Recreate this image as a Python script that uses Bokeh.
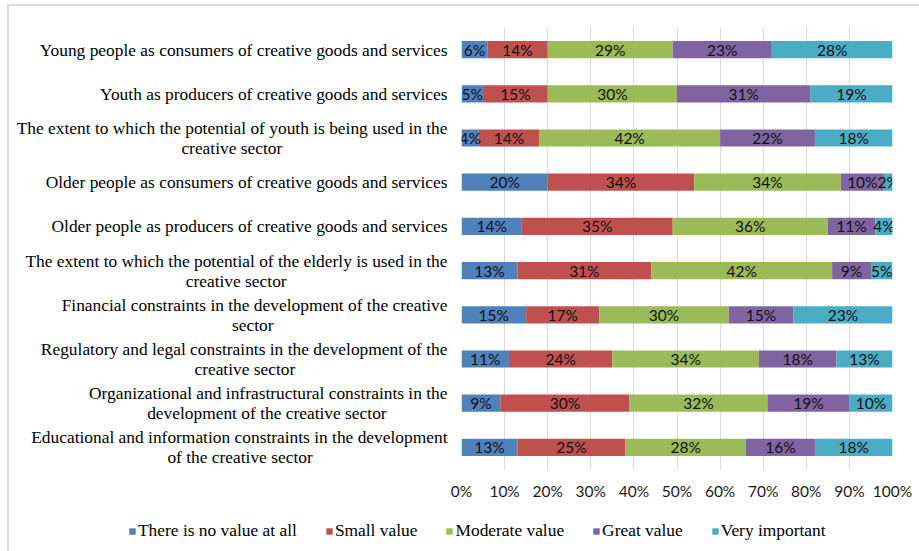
import numpy as np
from bokeh.plotting import figure
from bokeh.layouts import column
from bokeh.models import ColumnDataSource, FixedTicker, PrintfTickFormatter, Legend, LegendItem, Range1d
from bokeh.core.properties import value
from bokeh.embed import file_html
from bokeh.resources import INLINE

categories = [
    "Young people as consumers of creative goods and services",
    "Youth as producers of creative goods and services",
    "The extent to which the potential of youth is being used in the\ncreative sector",
    "Older people as consumers of creative goods and services",
    "Older people as producers of creative goods and services",
    "The extent to which the potential of the elderly is used in the\ncreative sector",
    "Financial constraints in the development of the creative\nsector",
    "Regulatory and legal constraints in the development of the\ncreative sector",
    "Organizational and infrastructural constraints in the\ndevelopment of the creative sector",
    "Educational and information constraints in the development\nof the creative sector",
]
series = ["There is no value at all", "Small value", "Moderate value", "Great value", "Very important"]
no_value = [6, 5, 4, 20, 14, 13, 15, 11, 9, 13]
small_value = [14, 15, 14, 34, 35, 31, 17, 24, 30, 25]
moderate_value = [29, 30, 42, 34, 36, 42, 30, 34, 32, 28]
great_value = [23, 31, 22, 10, 11, 9, 15, 18, 19, 16]
very_important = [28, 19, 18, 2, 4, 5, 23, 13, 10, 18]
x_ticks = [0, 10, 20, 30, 40, 50, 60, 70, 80, 90, 100]
colors = ["#4F81BD", "#C0504D", "#9BBB59", "#8064A2", "#4BACC6"]

# Times/Liberation Serif advance widths (1/1000 em) used to centre second lines
_w = {' ': 250, 'a': 444, 'b': 500, 'c': 444, 'd': 500, 'e': 444, 'f': 333, 'g': 500,
      'h': 500, 'i': 278, 'j': 278, 'k': 500, 'l': 278, 'm': 778, 'n': 500, 'o': 500,
      'p': 500, 'q': 500, 'r': 333, 's': 389, 't': 278, 'u': 500, 'v': 500, 'w': 722,
      'x': 500, 'y': 500, 'z': 444, 'T': 611, 'F': 556, 'R': 667, 'O': 722, 'E': 611, 'Y': 722}


def _width(s):
    return sum(_w.get(c, 500) for c in s)


def centred(label):
    lines = label.split("\n")
    if len(lines) < 2:
        return label
    first, second = lines
    pad = int(round((_width(first) - _width(second)) / 2 / 250))
    return first + "\n" + second + "\u00a0" * max(pad, 0)


display_cats = [centred(c) for c in categories]

values = [no_value, small_value, moderate_value, great_value, very_important]
keys = ["s0", "s1", "s2", "s3", "s4"]
data = {"cat": display_cats}
for k, v in zip(keys, values):
    data[k] = v
source = ColumnDataSource(data)

W = 910
p = figure(
    width=W, height=501,
    y_range=list(reversed(display_cats)), x_range=(0, 100),
    output_backend="svg", toolbar_location=None,
    min_border_left=452, min_border_right=27, min_border_top=21, min_border_bottom=38,
)
p.frame_align = False
p.outline_line_color = None
p.background_fill_color = "white"
p.border_fill_color = "white"

renderers = p.hbar_stack(keys, y="cat", height=0.39, color=colors, source=source, line_color=None)

# data labels centred in segments
arr = np.array(values, dtype=float)
lefts = np.cumsum(arr, axis=0) - arr
mids = lefts + arr / 2
lab_x, lab_y, lab_t = [], [], []
for i in range(arr.shape[0]):
    for j in range(arr.shape[1]):
        lab_x.append(mids[i, j])
        lab_y.append(display_cats[j])
        lab_t.append(f"{int(arr[i, j])}%")
p.text(x=lab_x, y=lab_y, text=lab_t, text_align="center", text_baseline="middle",
       text_font=value("Lato"), text_font_size="15.5px", text_color="#111111")

# axes
p.xaxis.ticker = FixedTicker(ticks=x_ticks)
p.xaxis.formatter = PrintfTickFormatter(format="%d%%")
p.xaxis.axis_line_color = None
p.xaxis.major_tick_line_color = None
p.xaxis.minor_tick_line_color = None
p.xaxis.major_label_text_font = "Lato"
p.xaxis.major_label_text_font_size = "15.5px"
p.xaxis.major_label_text_color = "#1a1a1a"
p.xaxis.major_label_standoff = 6

p.yaxis.axis_line_color = None
p.yaxis.major_tick_line_color = None
p.yaxis.major_label_text_font = "Liberation Serif"
p.yaxis.major_label_text_font_size = "17.4px"
p.yaxis.major_label_text_line_height = 1.0
p.yaxis.major_label_text_color = "#000000"
p.yaxis.major_label_standoff = 8

p.xgrid.grid_line_color = "#d9d9d9"
p.xgrid.grid_line_width = 1
p.ygrid.grid_line_color = None

# legend strip below the chart
lg = figure(width=W, height=44, x_range=Range1d(0, 1), y_range=Range1d(0, 1),
            output_backend="svg", toolbar_location=None,
            min_border_left=0, min_border_right=0, min_border_top=0, min_border_bottom=0)
lg.frame_align = False
lg.axis.visible = False
lg.grid.grid_line_color = None
lg.outline_line_color = None
legend_renderers = [lg.hbar(y=[-5], left=[-5], right=[-4], height=0.5, color=c, line_color=None)
                    for c in colors]
legend = Legend(
    items=[LegendItem(label=s, renderers=[r]) for s, r in zip(series, legend_renderers)],
    orientation="horizontal", location=(119, 10),
    glyph_width=8, glyph_height=8, label_standoff=2, spacing=28,
    padding=0, margin=0, label_height=18,
    label_text_font="Liberation Serif", label_text_font_size="17.4px",
    label_text_color="#000000", border_line_color=None, background_fill_alpha=0,
)
lg.add_layout(legend, "center")

layout = column(p, lg, spacing=0)
layout.styles = {"border-left": "2px solid #d9d9d9", "border-top": "2px solid #d9d9d9",
                 "margin-left": "7px", "margin-top": "4px"}
open("out.html", "w").write(file_html(layout, INLINE))
